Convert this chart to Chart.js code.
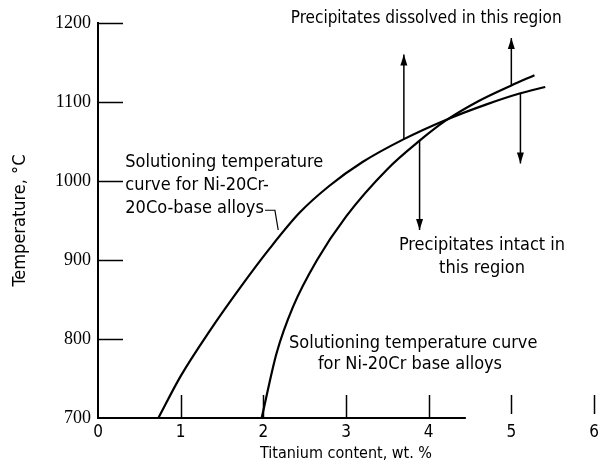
<!DOCTYPE html>
<html><head><meta charset="utf-8">
<script src="https://cdn.jsdelivr.net/npm/chart.js@4/dist/chart.umd.min.js"></script>
<style>html,body{margin:0;padding:0;background:#fff}#c{display:block}</style>
</head><body>
<canvas id="c" width="610" height="468"></canvas>
<script>
// ---- data ----
const xTickValues = [0, 1, 2, 3, 4, 5, 6];
const yTickValues = [700, 800, 900, 1000, 1100, 1200];
// Solutioning temperature curve for Ni-20Cr-20Co-base alloys
const coX = [0.73, 1.00, 1.35, 1.72, 2.08, 2.44, 2.80, 3.20, 3.70, 4.20, 4.70, 5.11, 5.41];
const coY = [700, 753, 810, 865, 915, 960, 994, 1024, 1053, 1077, 1097, 1111, 1119];
// Solutioning temperature curve for Ni-20Cr base alloys
const crX = [1.98, 2.16, 2.36, 2.65, 3.00, 3.50, 3.89, 4.20, 4.60, 5.00, 5.28];
const crY = [700, 782, 841, 900, 955, 1015, 1051, 1076, 1101, 1121, 1134];
// arrows (x, from y, to y)
const arrowX = [3.70, 3.89, 5.00, 5.11];
const arrowFrom = [1053, 1051, 1121, 1111];
const arrowTo = [1160, 938, 1181, 1022];
// leader from label to Ni-20Cr-20Co curve
const leaderX = [2.02, 2.14, 2.18];
const leaderY = [963, 963, 938];
// annotation texts
const notes = [
  {lines: ['Precipitates dissolved in this region'], x: 3.97, y: 1206, align: 'center', size: 17},
  {lines: ['Precipitates intact in', 'this region'], x: 4.645, y: 918, align: 'center', size: 18},
  {lines: ['Solutioning temperature', 'curve for Ni-20Cr-', '20Co-base alloys'], x: 0.33, y: 1024, align: 'left', size: 18},
  {lines: ['Solutioning temperature curve'], x: 2.31, y: 795, align: 'left', size: 18},
  {lines: ['for Ni-20Cr base alloys'], x: 2.66, y: 768, align: 'left', size: 18}
];
const xTitle = 'Titanium content, wt. %';
const yTitle = 'Temperature, \u00B0C';

// ---- build ----
const pts = (xs, ys) => xs.map((x, i) => ({x: x, y: ys[i]}));
const datasets = [
  {label: 'Ni-20Cr-20Co', data: pts(coX, coY), borderColor: '#000', borderWidth: 2.2, pointRadius: 0, cubicInterpolationMode: 'monotone', fill: false},
  {label: 'Ni-20Cr', data: pts(crX, crY), borderColor: '#000', borderWidth: 2.2, pointRadius: 0, cubicInterpolationMode: 'monotone', fill: false},
  {label: 'leader', data: pts(leaderX, leaderY), borderColor: '#000', borderWidth: 1.2, pointRadius: 0, tension: 0, fill: false}
];
arrowX.forEach((x, i) => {
  datasets.push({label: 'arrow' + i, arrow: true, data: [{x: x, y: arrowFrom[i]}, {x: x, y: arrowTo[i]}],
    borderColor: '#000', borderWidth: 1.5, pointRadius: 0, tension: 0, fill: false});
});

const FONT = 'DejaVu Sans Condensed';
const decor = {
  id: 'decor',
  afterDatasetsDraw(chart) {
    const ctx = chart.ctx, xs = chart.scales.x, ys = chart.scales.y;
    ctx.save();
    ctx.strokeStyle = '#000';
    ctx.fillStyle = '#000';
    // x axis line (fades out past ~4.5 in the original)
    ctx.lineWidth = 2;
    ctx.beginPath();
    ctx.moveTo(xs.getPixelForValue(0) - 1, ys.getPixelForValue(700));
    ctx.lineTo(xs.getPixelForValue(4.45), ys.getPixelForValue(700));
    ctx.stroke();
    // inward ticks
    ctx.lineWidth = 1.5;
    yTickValues.forEach(v => {
      if (v === 700) return;
      const py = Math.round(ys.getPixelForValue(v)) + 0.5;
      ctx.beginPath(); ctx.moveTo(xs.getPixelForValue(0), py); ctx.lineTo(xs.getPixelForValue(0) + 25, py); ctx.stroke();
    });
    xTickValues.forEach(v => {
      if (v === 0) return;
      const px = Math.round(xs.getPixelForValue(v)) + 0.5;
      const by = ys.getPixelForValue(700) - (v >= 5 ? 4 : 0);
      ctx.beginPath(); ctx.moveTo(px, by); ctx.lineTo(px, ys.getPixelForValue(700) - 23); ctx.stroke();
    });
    // arrowheads
    chart.data.datasets.forEach((ds, i) => {
      if (!ds.arrow) return;
      const m = chart.getDatasetMeta(i).data;
      const a = m[0], b = m[m.length - 1];
      const dir = Math.sign(b.y - a.y);
      ctx.beginPath();
      ctx.moveTo(b.x, b.y);
      ctx.lineTo(b.x - 3.5, b.y - dir * 11);
      ctx.lineTo(b.x + 3.5, b.y - dir * 11);
      ctx.closePath();
      ctx.fill();
    });
    // texts
    ctx.textBaseline = 'middle';
    notes.forEach(n => {
      ctx.font = n.size + 'px "' + FONT + '"';
      ctx.textAlign = n.align;
      const px = xs.getPixelForValue(n.x);
      const py = ys.getPixelForValue(n.y);
      n.lines.forEach((t, k) => ctx.fillText(t, px, py + k * 23));
    });
    ctx.restore();
  }
};

new Chart(document.getElementById('c'), {
  type: 'line',
  data: {datasets: datasets},
  options: {
    responsive: false,
    animation: false,
    layout: {padding: {top: 23, right: 16, left: 0, bottom: 0}},
    plugins: {legend: {display: false}, tooltip: {enabled: false}},
    scales: {
      x: {
        type: 'linear', min: 0, max: 6,
        afterBuildTicks: s => { s.ticks = xTickValues.map(v => ({value: v})); },
        afterFit: s => { s.height = 50; },
        grid: {display: false, drawTicks: false},
        border: {display: false},
        ticks: {padding: 4, color: '#000', font: {family: FONT, size: 17}, callback: v => String(v)},
        title: {display: true, text: xTitle, color: '#000', font: {family: FONT, size: 16}, padding: {top: 0, bottom: 5}}
      },
      y: {
        type: 'linear', min: 700, max: 1200,
        afterBuildTicks: s => { s.ticks = yTickValues.map(v => ({value: v})); },
        afterFit: s => { s.width = 98; },
        grid: {display: false, drawTicks: false},
        border: {display: true, color: '#000', width: 2},
        ticks: {padding: 7, color: '#000', font: {family: 'Liberation Serif', size: 18}, callback: v => String(v)},
        title: {display: true, text: yTitle, color: '#000', font: {family: FONT, size: 18}, padding: {top: 10, bottom: 0}}
      }
    }
  },
  plugins: [decor]
});
</script>
</body></html>
